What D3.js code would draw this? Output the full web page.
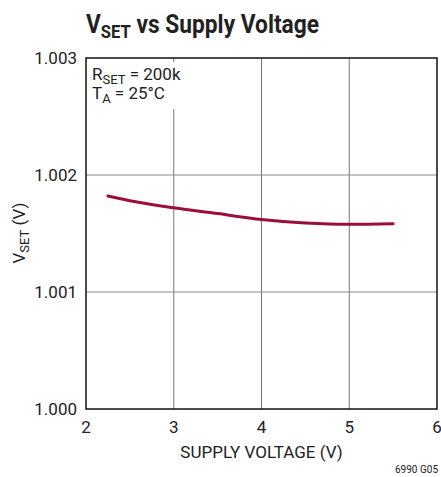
<!DOCTYPE html>
<meta charset="utf-8">
<head>
  <title>VSET vs Supply Voltage</title>
</head>
<style>
  body { margin: 0; background: #fff; }
  text { font-family: "Liberation Sans Narrow", "Roboto", "Liberation Sans", sans-serif; fill: #222; }
</style>
<body>
  <svg width="441" height="477"></svg>

  <script src="https://cdnjs.cloudflare.com/ajax/libs/d3/7.8.5/d3.min.js"></script>
  <script>
  // values
  var supplyVoltage = [2.25, 2.5, 3.0, 3.5, 4.0, 4.5, 5.0, 5.5];
  var vset = [1.00182, 1.00178, 1.00172, 1.00167, 1.00162, 1.00159, 1.001578, 1.001584];
  var xTicks = [2, 3, 4, 5, 6];
  var yTicks = [1.000, 1.001, 1.002, 1.003];

  var svg = d3.select('svg');
  var plotL = 86, plotR = 437, plotT = 58, plotB = 409;

  var x = d3.scaleLinear().domain([2, 6]).range([plotL, plotR]);
  var y = d3.scaleLinear().domain([1.000, 1.003]).range([plotB, plotT]);

  // grid
  svg.append('g').selectAll('line')
    .data(xTicks.slice(1, -1))
    .enter().append('line')
    .attr('x1', function(d) { return x(d); })
    .attr('x2', function(d) { return x(d); })
    .attr('y1', plotT).attr('y2', plotB)
    .attr('stroke', '#777').attr('stroke-width', 1);

  svg.append('g').selectAll('line')
    .data(yTicks.slice(1, -1))
    .enter().append('line')
    .attr('x1', plotL).attr('x2', plotR)
    .attr('y1', function(d) { return y(d); })
    .attr('y2', function(d) { return y(d); })
    .attr('stroke', '#888').attr('stroke-width', 1);

  // white patch behind the annotation (grid line is cut there)
  svg.append('rect')
    .attr('x', plotL + 2).attr('y', plotT + 4)
    .attr('width', 100).attr('height', 47)
    .attr('fill', '#fff');

  // frame
  svg.append('rect')
    .attr('x', plotL).attr('y', plotT)
    .attr('width', plotR - plotL).attr('height', plotB - plotT)
    .attr('fill', 'none').attr('stroke', '#111').attr('stroke-width', 1.5);

  // tick labels
  svg.append('g').selectAll('text')
    .data(xTicks)
    .enter().append('text')
    .attr('x', function(d) { return x(d); })
    .attr('y', 433)
    .attr('text-anchor', 'middle')
    .style('font-size', '17px')
    .text(function(d) { return d; });

  svg.append('g').selectAll('text')
    .data(yTicks)
    .enter().append('text')
    .attr('x', 77)
    .attr('y', function(d) { return y(d) + 6; })
    .attr('text-anchor', 'end')
    .style('font-size', '17px')
    .text(function(d) { return d3.format('.3f')(d); });

  // curve
  var line = d3.line()
    .x(function(d, i) { return x(supplyVoltage[i]); })
    .y(function(d) { return y(d); })
    .curve(d3.curveMonotoneX);

  svg.append('path')
    .datum(vset)
    .attr('d', line)
    .attr('fill', 'none')
    .attr('stroke', '#9b0f3c')
    .attr('stroke-width', 3)
    .attr('stroke-linecap', 'round');

  // title
  var title = svg.append('text')
    .attr('x', 86).attr('y', 33)
    .style('font-size', '26px')
    .style('font-weight', 'bold')
    .attr('textLength', 233)
    .attr('lengthAdjust', 'spacingAndGlyphs');
  title.append('tspan').text('V');
  title.append('tspan').attr('dy', 5).style('font-size', '19px').text('SET');
  title.append('tspan').attr('dy', -5).text(' vs Supply Voltage');

  // annotation
  var a1 = svg.append('text').attr('x', 92).attr('y', 80).style('font-size', '17px');
  a1.append('tspan').text('R');
  a1.append('tspan').attr('dy', 4).style('font-size', '13px').text('SET');
  a1.append('tspan').attr('dy', -4).text(' = 200k');

  var a2 = svg.append('text').attr('x', 92).attr('y', 99).style('font-size', '17px');
  a2.append('tspan').text('T');
  a2.append('tspan').attr('dy', 4).style('font-size', '13px').text('A');
  a2.append('tspan').attr('dy', -4).text(' = 25°C');

  // axis labels
  svg.append('text')
    .attr('x', x(4)).attr('y', 458)
    .attr('text-anchor', 'middle')
    .style('font-size', '17px')
    .text('SUPPLY VOLTAGE (V)');

  var yl = svg.append('text')
    .attr('transform', 'translate(25, 233) rotate(-90)')
    .attr('text-anchor', 'middle')
    .style('font-size', '17px');
  yl.append('tspan').text('V');
  yl.append('tspan').attr('dy', 4).style('font-size', '13px').text('SET');
  yl.append('tspan').attr('dy', -4).text(' (V)');

  svg.append('text')
    .attr('x', 438).attr('y', 473)
    .attr('text-anchor', 'end')
    .style('font-size', '10px')
    .text('6990 G05');
  </script>
</body>
</html>
